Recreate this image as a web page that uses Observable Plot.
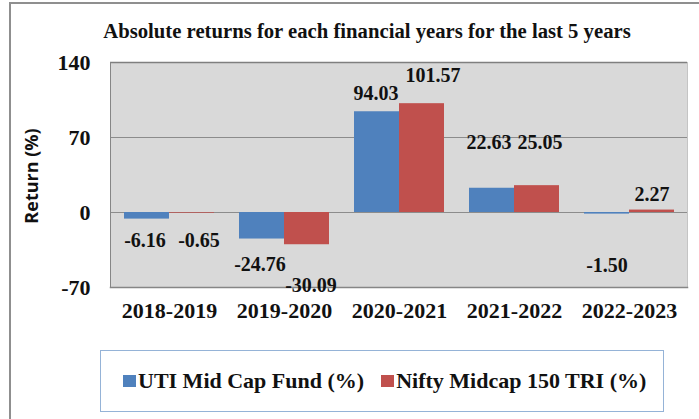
<!DOCTYPE html>
<html><head><meta charset="utf-8">
<script src="https://cdn.jsdelivr.net/npm/d3@7"></script>
<script src="https://cdn.jsdelivr.net/npm/@observablehq/plot@0.6"></script>
<style>
body{margin:0;background:#fff;}
#wrap{position:relative;width:699px;height:419px;overflow:hidden;font-family:"Liberation Serif",serif;background:#fff;}
#frame{position:absolute;left:9px;top:2px;width:740px;height:440px;border:2px solid #8f8f8f;box-sizing:border-box;}
#title{position:absolute;left:0;top:20px;width:734px;text-align:center;font-size:20.7px;font-weight:bold;color:#111;white-space:nowrap;}
#ylab{position:absolute;left:31px;top:176px;transform:translate(-50%,-50%) rotate(-90deg);font-family:"Open Sans",sans-serif;font-weight:bold;font-size:18px;white-space:nowrap;color:#111;}
#chart{position:absolute;left:0;top:0;}
#legend{position:absolute;left:100px;top:350px;width:564px;height:62px;border:1px solid #95b3d7;box-sizing:border-box;display:flex;align-items:center;padding-left:22px;font-size:22px;font-weight:bold;color:#111;}
.item{display:flex;align-items:center;margin-right:17px;white-space:nowrap;}
.sw{width:13px;height:12px;margin-right:2px;}
</style></head>
<body>
<div id="wrap">
  <div id="frame"></div>
  <div id="chart"></div>
  <div id="title"></div>
  <div id="ylab"></div>
  <div id="legend"></div>
</div>
<script>
const titleText = "Absolute returns for each financial years for the last 5 years";
const yAxisTitle = "Return (%)";
const categories = ["2018-2019", "2019-2020", "2020-2021", "2021-2022", "2022-2023"];
const seriesNames = ["UTI Mid Cap Fund (%)", "Nifty Midcap 150 TRI (%)"];
const utiValues = [-6.16, -24.76, 94.03, 22.63, -1.50];
const niftyValues = [-0.65, -30.09, 101.57, 25.05, 2.27];
const yTicks = [-70, 0, 70, 140];
const seriesColors = ["#4F81BD", "#C0504D"];

// label nudges (px) to mimic the reference's manually placed data labels
const labelDx = [[-2, 7], [-2, 4], [-1, 11], [-3, 3], [0, 0]];
const labelDy = [[21, 27], [26, 41], [-18, -28], [-46, -43], [51, -15]];

const W = 699, H = 330, ML = 110, MR = 12, MT = 62, MB = 43;
const padIn = 0.22;
const step = (W - ML - MR) / categories.length;
const bw = step * (1 - padIn);
const fmt = d => String(d);

const rows = categories.flatMap((c, i) => [
  {cat: c, s: 0, series: seriesNames[0], value: utiValues[i], i},
  {cat: c, s: 1, series: seriesNames[1], value: niftyValues[i], i}
]);

const labelMarks = rows.map(r => Plot.text([r], {
  x: "cat", y: "value", text: d => d.value.toFixed(2),
  dx: (r.s === 0 ? -bw / 4 : bw / 4) + labelDx[r.i][r.s],
  dy: labelDy[r.i][r.s],
  fontSize: 20, fontWeight: "bold", fill: "#111"
}));

const chart = Plot.plot({
  width: W, height: H,
  marginLeft: ML, marginRight: MR, marginTop: MT, marginBottom: MB,
  style: {fontFamily: "Liberation Serif, serif", background: "transparent", color: "#111"},
  x: {domain: categories, paddingInner: padIn, paddingOuter: padIn / 2, label: null},
  y: {domain: [-70, 140], label: null},
  marks: [
    Plot.frame({fill: "#D9D9D9", stroke: null}),
    Plot.ruleY([0, 70], {stroke: "#8c8c8c"}),
    Plot.ruleY([140], {stroke: "#7f7f7f", strokeWidth: 1.5}),
    Plot.frame({anchor: "right", stroke: "#c4c4c4"}),
    Plot.frame({anchor: "left", stroke: "#868686"}),
    Plot.frame({anchor: "bottom", stroke: "#868686", strokeWidth: 1.5}),
    Plot.barY(rows.filter(d => d.s === 0), {x: "cat", y: "value", fill: seriesColors[0], insetRight: bw / 2}),
    Plot.barY(rows.filter(d => d.s === 1), {x: "cat", y: "value", fill: seriesColors[1], insetLeft: bw / 2}),
    ...labelMarks,
    Plot.axisY({ticks: yTicks, tickFormat: fmt, tickSize: 0, tickPadding: 20, fontSize: 22, fontWeight: "bold", label: null}),
    Plot.axisX({tickSize: 0, tickPadding: 15, fontSize: 22, fontWeight: "bold", label: null})
  ]
});
document.getElementById("chart").append(chart);
document.getElementById("title").textContent = titleText;
document.getElementById("ylab").textContent = yAxisTitle;
const leg = document.getElementById("legend");
seriesNames.forEach((n, k) => {
  const it = document.createElement("div"); it.className = "item";
  const sw = document.createElement("div"); sw.className = "sw"; sw.style.background = seriesColors[k];
  const tx = document.createElement("span"); tx.textContent = n;
  it.append(sw, tx); leg.append(it);
});
</script>
</body></html>
